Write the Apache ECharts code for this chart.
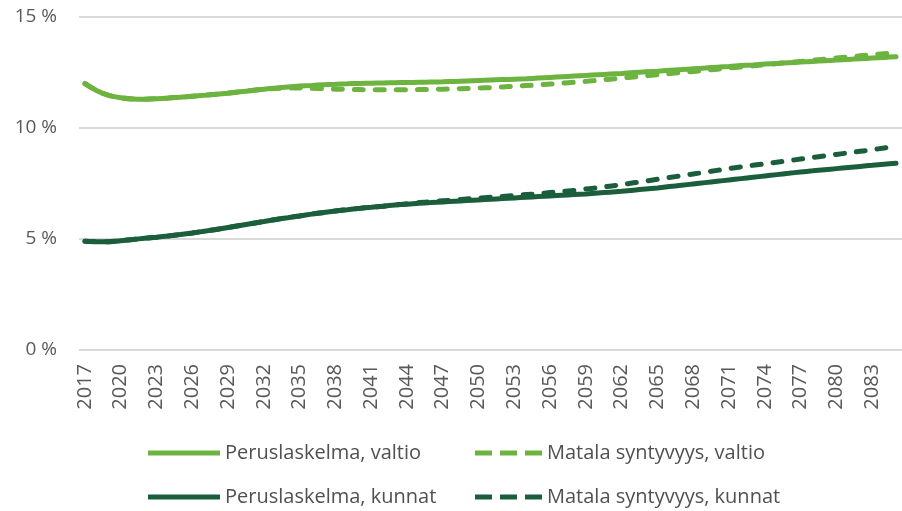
<!DOCTYPE html>
<html>
<head>
<meta charset="utf-8">
<script src="https://cdn.jsdelivr.net/npm/echarts@6/dist/echarts.min.js"></script>
<style>
  html, body { margin: 0; padding: 0; background: #fff; }
  #chart { width: 902px; height: 511px; }
</style>
</head>
<body>
<div id="chart"></div>
<script>
const years = [];
for (let y = 2017; y <= 2085; y++) years.push(String(y));

const perusValtio = [
  12.0, 11.68, 11.47, 11.36, 11.31, 11.3, 11.32, 11.35, 11.39, 11.43,
  11.47, 11.52, 11.57, 11.63, 11.69, 11.75, 11.8, 11.85, 11.89, 11.92,
  11.95, 11.97, 11.99, 12.01, 12.02, 12.03, 12.04, 12.05, 12.06, 12.07,
  12.08, 12.1, 12.12, 12.14, 12.16, 12.18, 12.2, 12.22, 12.25, 12.28,
  12.31, 12.34, 12.37, 12.4, 12.43, 12.46, 12.5, 12.53, 12.56, 12.6,
  12.63, 12.67, 12.7, 12.74, 12.77, 12.81, 12.84, 12.88, 12.91, 12.94,
  12.97, 13.0, 13.03, 13.06, 13.09, 13.12, 13.15, 13.18, 13.21
];
const matalaValtio = [
  12.0, 11.68, 11.47, 11.36, 11.31, 11.3, 11.32, 11.35, 11.39, 11.43,
  11.47, 11.52, 11.57, 11.63, 11.69, 11.75, 11.78, 11.8, 11.8, 11.79,
  11.77, 11.75, 11.74, 11.73, 11.72, 11.72, 11.72, 11.72, 11.73, 11.74,
  11.75, 11.76, 11.78, 11.8, 11.82, 11.85, 11.88, 11.91, 11.94, 11.98,
  12.02, 12.06, 12.1, 12.15, 12.2, 12.25, 12.3, 12.35, 12.4, 12.45,
  12.5, 12.55, 12.6, 12.65, 12.7, 12.75, 12.8, 12.85, 12.9, 12.95,
  13.0, 13.05, 13.1, 13.15, 13.2, 13.25, 13.3, 13.35, 13.4
];
const perusKunnat = [
  4.9, 4.88, 4.88, 4.92, 4.98, 5.03, 5.08, 5.14, 5.2, 5.27,
  5.35, 5.43, 5.52, 5.61, 5.7, 5.79, 5.88, 5.96, 6.04, 6.12,
  6.19, 6.26, 6.32, 6.38, 6.43, 6.48, 6.53, 6.57, 6.61, 6.64,
  6.67, 6.7, 6.73, 6.76, 6.79, 6.82, 6.85, 6.88, 6.91, 6.94,
  6.97, 7.0, 7.03, 7.07, 7.11, 7.15, 7.2, 7.25, 7.3, 7.36,
  7.42, 7.48, 7.54, 7.6, 7.66, 7.72, 7.78, 7.84, 7.9, 7.96,
  8.02, 8.07, 8.12, 8.17, 8.22, 8.27, 8.32, 8.37, 8.41
];
const matalaKunnat = [
  4.9, 4.88, 4.88, 4.92, 4.98, 5.03, 5.08, 5.14, 5.2, 5.27,
  5.35, 5.43, 5.52, 5.61, 5.7, 5.79, 5.88, 5.96, 6.04, 6.12,
  6.19, 6.26, 6.32, 6.38, 6.43, 6.48, 6.53, 6.59, 6.64, 6.68,
  6.72, 6.76, 6.8, 6.84, 6.88, 6.92, 6.96, 7.0, 7.04, 7.09,
  7.14, 7.19, 7.25, 7.31, 7.38, 7.45, 7.53, 7.61, 7.69, 7.77,
  7.85, 7.93, 8.01, 8.09, 8.17, 8.25, 8.32, 8.39, 8.46, 8.53,
  8.6, 8.67, 8.74, 8.81, 8.88, 8.95, 9.02, 9.1, 9.18
];

const light = '#6cb33f';
const dark = '#1b5e3c';
const font = 'Open Sans';

let myChart = echarts.init(document.getElementById('chart'));

function line(name, data, color, dashed) {
    return {
        name: name,
        type: 'line',
        data: data,
        symbol: 'none',
        smooth: 0.3,
        lineStyle: {
            color: color,
            width: 5,
            type: dashed ? [9, 12] : 'solid',
            cap: 'round'
        },
        itemStyle: { color: color }
    };
}

// legend icons: a bar for solid lines, three bars for dashed ones (same aspect as the item box)
const solidIcon = 'path://M0,0h72v5h-72z';
const dashIcon = 'path://M0,0h17v5h-17z M25,0h17v5h-17z M50,0h17v5h-17z';

function legendCol(left, width, icon, items) {
    return {
        orient: 'vertical',
        left: left,
        top: 442,
        padding: 0,
        icon: icon,
        itemWidth: width,
        itemHeight: 5,
        itemGap: 22,
        textStyle: { fontFamily: font, fontSize: 20, lineHeight: 22, color: '#505050' },
        data: items.map(it => ({
            name: it[0],
            itemStyle: { color: it[1], borderWidth: 0 }
        }))
    };
}

let option = {
    animation: false,
    textStyle: { fontFamily: font },
    grid: { left: 79, top: 17, width: 832, height: 333 },
    legend: [
        legendCol(148, 72, solidIcon, [['Peruslaskelma, valtio', light], ['Peruslaskelma, kunnat', dark]]),
        legendCol(475, 67, dashIcon, [['Matala syntyvyys, valtio', light], ['Matala syntyvyys, kunnat', dark]])
    ],
    xAxis: {
        type: 'category',
        data: years,
        boundaryGap: true,
        axisLine: { show: false },
        axisTick: { show: false },
        axisLabel: {
            interval: 2,
            rotate: 90,
            margin: 14,
            fontSize: 20,
            color: '#595959',
            fontFamily: font
        }
    },
    yAxis: {
        type: 'value',
        min: 0,
        max: 15,
        interval: 5,
        axisLabel: {
            margin: 22,
            fontSize: 19,
            color: '#595959',
            fontFamily: font,
            formatter: v => v + ' %'
        },
        splitLine: { lineStyle: { color: '#d9d9d9', width: 2 } }
    },
    series: [
        line('Peruslaskelma, valtio', perusValtio, light, false),
        line('Matala syntyvyys, valtio', matalaValtio, light, true),
        line('Peruslaskelma, kunnat', perusKunnat, dark, false),
        line('Matala syntyvyys, kunnat', matalaKunnat, dark, true)
    ]
};
option && myChart.setOption(option);
</script>
</body>
</html>
